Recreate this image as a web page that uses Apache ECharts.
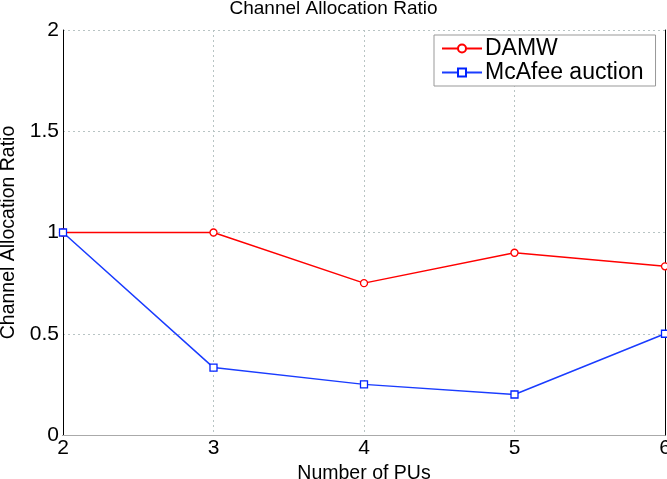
<!DOCTYPE html>
<html><head><meta charset="utf-8">
<script src="https://cdn.jsdelivr.net/npm/echarts@6/dist/echarts.min.js"></script>
<style>html,body{margin:0;padding:0;background:#fff}#c{width:667px;height:479px}</style>
</head><body><div id="c"></div>
<script>
const xValues = [2, 3, 4, 5, 6];
const damw = [1, 1, 0.75, 0.9, 0.833];
const mcafee = [1, 0.333, 0.25, 0.2, 0.5];
const yTicks = [0, 0.5, 1, 1.5, 2];
const xTicks = [2, 3, 4, 5, 6];

const font = 'Liberation Sans, Arial, sans-serif';
const chart = echarts.init(document.getElementById('c'));
chart.setOption({
  animation: false,
  title: { text: 'Channel Allocation Ratio', left: 'center', top: -6,
    textStyle: { fontFamily: font, fontSize: 19, fontWeight: 'normal', color: '#000' } },
  grid: { left: 63, right: 2, top: 30, bottom: 44, containLabel: false, outerBoundsMode: 'none' },
  legend: {
    orient: 'vertical', left: 434, top: 35,
    backgroundColor: '#fff', borderColor: '#999', borderWidth: 1,
    padding: [2, 12, 2, 7], itemGap: 1, itemWidth: 40, itemHeight: 10,
    textStyle: { fontFamily: font, fontSize: 23, color: '#000', padding: [0, 0, 0, -2] },
    data: ['DAMW', 'McAfee auction']
  },
  xAxis: [{
    type: 'value', min: 2, max: 6, interval: 1,
    name: 'Number of PUs', nameLocation: 'middle', nameGap: 28,
    nameTextStyle: { fontFamily: font, fontSize: 19.5, color: '#000' },
    axisLine: { lineStyle: { color: '#000', width: 1 } },
    axisTick: { show: false },
    axisLabel: { fontFamily: font, fontSize: 21, color: '#000', margin: 3,
      formatter: v => xTicks.includes(v) ? String(v) : '' },
    splitLine: { show: true, lineStyle: { color: '#b8c4c4', type: [2, 3], width: 1 } }
  }, {
    type: 'value', min: 2, max: 6, position: 'top',
    axisLine: { show: true, lineStyle: { color: '#aaa' } },
    axisTick: { show: false }, axisLabel: { show: false }, splitLine: { show: false }
  }],
  yAxis: [{
    type: 'value', min: 0, max: 2, interval: 0.5,
    name: 'Channel Allocation Ratio', nameLocation: 'middle', nameGap: 42,
    nameTextStyle: { fontFamily: font, fontSize: 19.5, color: '#000' },
    axisLine: { show: true, lineStyle: { color: '#000', width: 1 } },
    axisTick: { show: false },
    axisLabel: { fontFamily: font, fontSize: 21, color: '#000', margin: 4,
      formatter: v => yTicks.includes(v) ? String(v) : '' },
    splitLine: { show: true, lineStyle: { color: '#b8c4c4', type: [2, 3], width: 1 } }
  }, {
    type: 'value', min: 0, max: 2, position: 'right',
    axisLine: { show: true, lineStyle: { color: '#000', width: 1 } },
    axisTick: { show: false }, axisLabel: { show: false }, splitLine: { show: false }
  }],
  series: [{
    name: 'DAMW', type: 'line', data: xValues.map((x, i) => [x, damw[i]]),
    symbol: 'circle', symbolSize: 7, showSymbol: true,
    itemStyle: { color: '#fff', borderColor: '#ff0000', borderWidth: 1.3 },
    lineStyle: { color: '#ff0000', width: 1.5 }, z: 3
  }, {
    name: 'McAfee auction', type: 'line', data: xValues.map((x, i) => [x, mcafee[i]]),
    symbol: 'rect', symbolSize: 7, showSymbol: true,
    itemStyle: { color: '#fff', borderColor: '#0022ff', borderWidth: 1.3 },
    lineStyle: { color: '#1a3cff', width: 1.5 }, z: 4
  }]
});
</script></body></html>
